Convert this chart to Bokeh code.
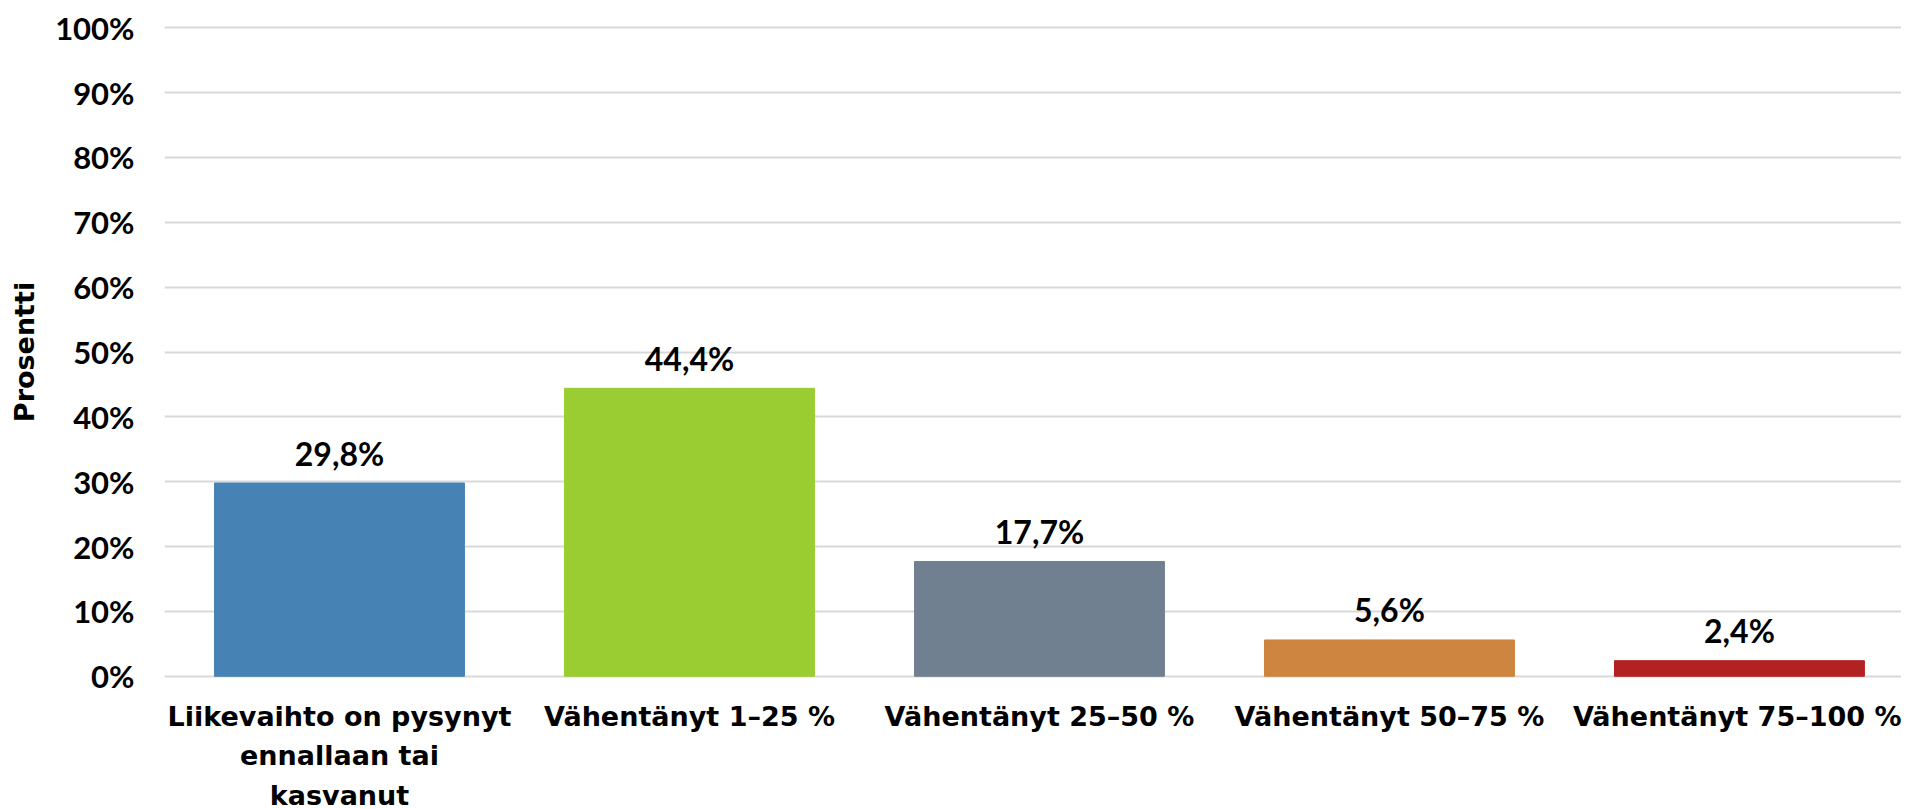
from bokeh.plotting import figure
from bokeh.models import ColumnDataSource, Range1d, FixedTicker
from bokeh.core.properties import value
from bokeh.embed import file_html
from bokeh.resources import INLINE

categories = [
    "Liikevaihto on pysynyt\nennallaan tai\nkasvanut",
    "Vähentänyt 1–25 %",
    "Vähentänyt 25–50 %",
    "Vähentänyt 50–75 %",
    "Vähentänyt 75–100 %",
]
values = [29.8, 44.4, 17.7, 5.6, 2.4]
labels = ["29,8%", "44,4%", "17,7%", "5,6%", "2,4%"]
colors = ["#4682B4", "#9ACD32", "#708090", "#CD853F", "#B22222"]
y_ticks = list(range(0, 101, 10))
y_tick_labels = [f"{t}%" for t in y_ticks]

xs = list(range(len(categories)))
src = ColumnDataSource(dict(x=xs, top=values, label=labels, color=colors))

p = figure(frame_width=1737, frame_height=655, output_backend="svg", toolbar_location=None,
           x_range=Range1d(-0.5, 4.463), y_range=Range1d(-0.5, 100.5),
           min_border_left=164, min_border_right=0, min_border_top=24, min_border_bottom=0)
p.outline_line_color = None
p.background_fill_color = "white"

p.vbar(x="x", top="top", bottom=0, width=0.714, color="color", source=src)
p.text(x="x", y="top", text="label", source=src, text_align="center",
       text_baseline="alphabetic", y_offset=-30, text_font=value("Lato"),
       text_font_style="bold", text_font_size="32px", text_color="black")

p.xgrid.visible = False
p.ygrid.ticker = FixedTicker(ticks=y_ticks)
p.ygrid.grid_line_color = "#d9d9d9"
p.ygrid.grid_line_width = 2

ya = p.yaxis[0]
ya.ticker = FixedTicker(ticks=y_ticks)
ya.major_label_overrides = {t: l for t, l in zip(y_ticks, y_tick_labels)}
ya.axis_line_color = None
ya.major_tick_line_color = None
ya.minor_tick_line_color = None
ya.major_tick_out = 0
ya.major_label_standoff = 30
ya.major_label_text_font = "Lato"
ya.major_label_text_font_style = "bold"
ya.major_label_text_font_size = "31px"
ya.major_label_text_color = "black"
ya.axis_label = "Prosentti"
ya.axis_label_text_font = "DejaVu Sans"
ya.axis_label_text_font_style = "bold"
ya.axis_label_text_font_size = "27px"
ya.axis_label_text_color = "black"
ya.axis_label_standoff = 12

xa = p.xaxis[0]
xa.ticker = FixedTicker(ticks=xs)
xa.major_label_overrides = {i: c for i, c in zip(xs, categories)}
xa.axis_line_color = None
xa.major_tick_line_color = None
xa.minor_tick_line_color = None
xa.major_tick_out = 0
xa.major_label_standoff = 21
xa.major_label_text_font = "DejaVu Sans"
xa.major_label_text_font_style = "bold"
xa.major_label_text_font_size = "27px"
xa.major_label_text_color = "black"
xa.major_label_text_line_height = 1.28

open("out.html", "w").write(file_html(p, INLINE))
